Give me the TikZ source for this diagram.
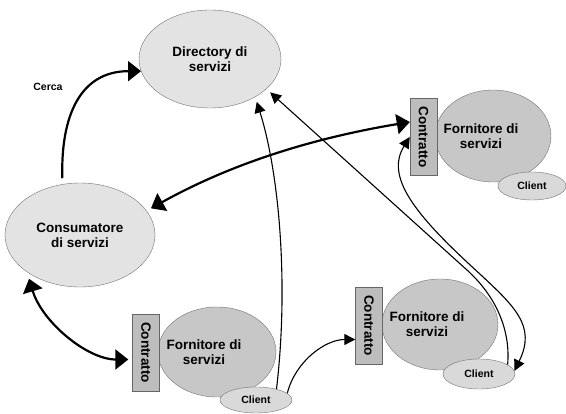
\documentclass[tikz,border=0pt]{standalone}
\usepackage{fontspec}
\usepackage{graphicx}
\setmainfont{Liberation Sans}
\usetikzlibrary{shapes.geometric,arrows.meta}
\begin{document}
\begin{tikzpicture}[x=1pt,y=-1pt,
        bigell/.style={ellipse,draw=black!55,fill=black!11,inner sep=0pt,font=\fontsize{13.5}{15}\selectfont\bfseries,align=center},
        fornell/.style={ellipse,draw=black!55,fill=black!22,inner sep=0pt},
        contrbox/.style={rectangle,draw=black!60,fill=black!26,minimum width=27pt,minimum height=77pt,inner sep=0pt,font=\fontsize{13.5}{15}\selectfont\bfseries},
        clientell/.style={ellipse,draw=black!55,fill=black!15,inner sep=0pt,font=\fontsize{10.5}{12}\selectfont\bfseries},
        lbl/.style={font=\fontsize{13.5}{15}\selectfont\bfseries,align=center},
        thicklink/.style={line width=2.2pt,>={Triangle[length=13pt,width=20pt]}},
        thinlink/.style={line width=1.1pt,>={Triangle[length=11pt,width=11pt]}}]
        \useasboundingbox (0,0) rectangle (566,414);
        % directory and consumer
        \node[bigell,minimum width=142pt,minimum height=98pt] (dir) at (210,59) {Directory di\\servizi};
        \node[bigell,minimum width=150pt,minimum height=104pt] (cons) at (80,235) {Consumatore\\di servizi};
        \node[font=\fontsize{10.5}{12}\selectfont\bfseries] (cerca) at (48,87) {Cerca};
        % providers
        \node[fornell,minimum width=116pt,minimum height=92pt] (forn1) at (493,136) {};
        \node[lbl] (forn1txt) at (481,136) {Fornitore di\\servizi};
        \node[contrbox] (c1) at (423.5,137) {\rotatebox{-90}{Contratto}};
        \node[clientell,minimum width=68pt,minimum height=28pt] (cl1) at (532,186) {Client};
        \node[fornell,minimum width=118pt,minimum height=90pt] (forn2) at (217,352) {};
        \node[lbl] (forn2txt) at (204,352) {Fornitore di\\servizi};
        \node[contrbox] (c2) at (146,352.5) {\rotatebox{-90}{Contratto}};
        \node[clientell,minimum width=72pt,minimum height=26pt] (cl2) at (256,400) {Client};
        \node[fornell,minimum width=116pt,minimum height=91pt] (forn3) at (440,324.5) {};
        \node[lbl] (forn3txt) at (427,324) {Fornitore di\\servizi};
        \node[contrbox] (c3) at (369,325.5) {\rotatebox{-90}{Contratto}};
        \node[clientell,minimum width=72pt,minimum height=30pt] (cl3) at (479,374) {Client};
        % connectors
        \draw[thicklink,->,shorten <=6pt] (cons.109) .. controls +(-2,-68) and +(-61,0) .. (dir.190);
        \draw[thicklink,<->,shorten <=5pt] (cons.20) .. controls +(90,-50) and +(-90,15) .. ([yshift=15pt]c1.west);
        \draw[thicklink,<->,shorten <=7pt,shorten >=4pt] (cons.215) .. controls +(15,50) and +(-45,0) .. ([yshift=-7pt]c2.west);
        \draw[thinlink,->] (cl2.12) .. controls +(8,-32) and +(-30,0) .. ([yshift=-14pt]c3.west);
        \draw[thinlink,->,shorten >=5pt] (cl2.28) .. controls +(12,-100) and +(25,80) .. (dir.-40);
        \draw[thinlink,->,shorten >=5pt] (cl3.18) .. controls +(3,-34) and +(30,27) .. ++(-41,-95) -- (dir.-28);
        \draw[thinlink,<->] (cl3.5) .. controls +(22,-45) and +(40,37) .. ++(-39,-101) .. controls +(-60,-55) and +(-25,40) .. (c1.west);
\end{tikzpicture}
\end{document}
